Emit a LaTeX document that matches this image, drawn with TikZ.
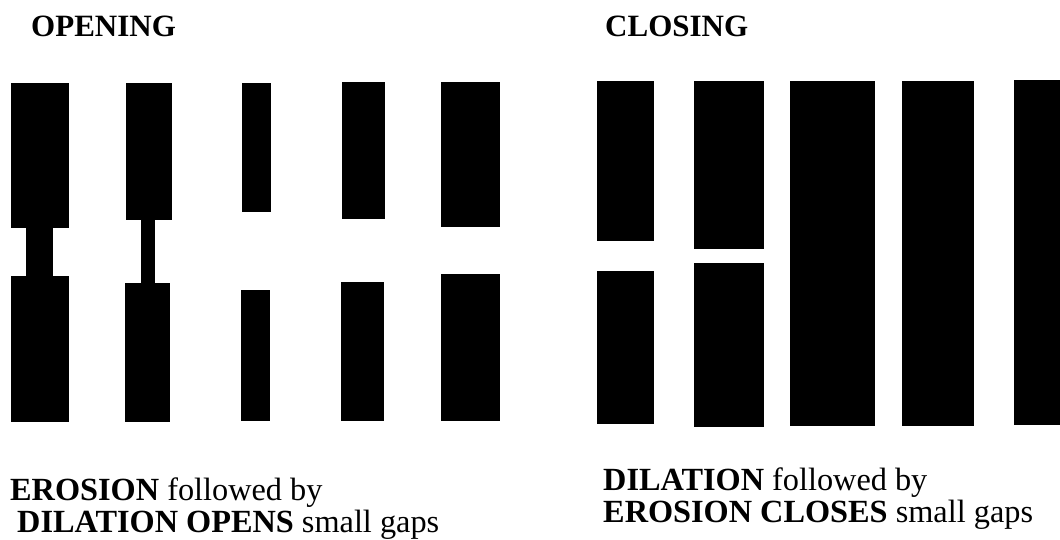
\documentclass[tikz,border=0pt]{standalone}
\usepackage{fontspec}
\setmainfont{Liberation Serif}
\begin{document}
\begin{tikzpicture}[x=1pt,y=-1pt,
  blob/.style={fill=black,draw=none},
  heading/.style={anchor=base west,inner sep=0pt,font=\fontsize{31}{31}\selectfont\bfseries},
  caption/.style={anchor=base west,inner sep=0pt,font=\fontsize{32.3}{32}\selectfont}]
\useasboundingbox (0,0) rectangle (1060,539);

% headings
\node[heading] (open) at (31,36) {OPENING};
\node[heading] (close) at (605,36) {CLOSING};

% opening: bars with a neck, thin neck, and separated pieces
\fill[blob] (11,83) rectangle (69,228);
\fill[blob] (26,227) rectangle (53,277);
\fill[blob] (11,276) rectangle (69,422);

\fill[blob] (126,83) rectangle (172,220);
\fill[blob] (141,219) rectangle (155,284);
\fill[blob] (125,283) rectangle (170,422);

\fill[blob] (242,83) rectangle (271,212);
\fill[blob] (241,290) rectangle (270,421);

\fill[blob] (342,82) rectangle (385,219);
\fill[blob] (341,282) rectangle (384,421);

\fill[blob] (441,82) rectangle (500,227);
\fill[blob] (441,274) rectangle (500,421);

% closing: gaps shrinking until the bars merge
\fill[blob] (597,81) rectangle (654,241);
\fill[blob] (597,271) rectangle (654,424);

\fill[blob] (694,81) rectangle (764,249);
\fill[blob] (694,263) rectangle (764,427);

\fill[blob] (790,81) rectangle (875,426);
\fill[blob] (902,81) rectangle (974,426);
\fill[blob] (1014,80) rectangle (1060,425);

% captions
\node[caption] (o1) at (10,500) {\textbf{EROSION} followed by};
\node[caption] (o2) at (17,532) {\textbf{DILATION OPENS} small gaps};
\node[caption] (c1) at (603,490) {\textbf{DILATION} followed by};
\node[caption] (c2) at (603,522) {\textbf{EROSION CLOSES} small gaps};
\end{tikzpicture}
\end{document}
